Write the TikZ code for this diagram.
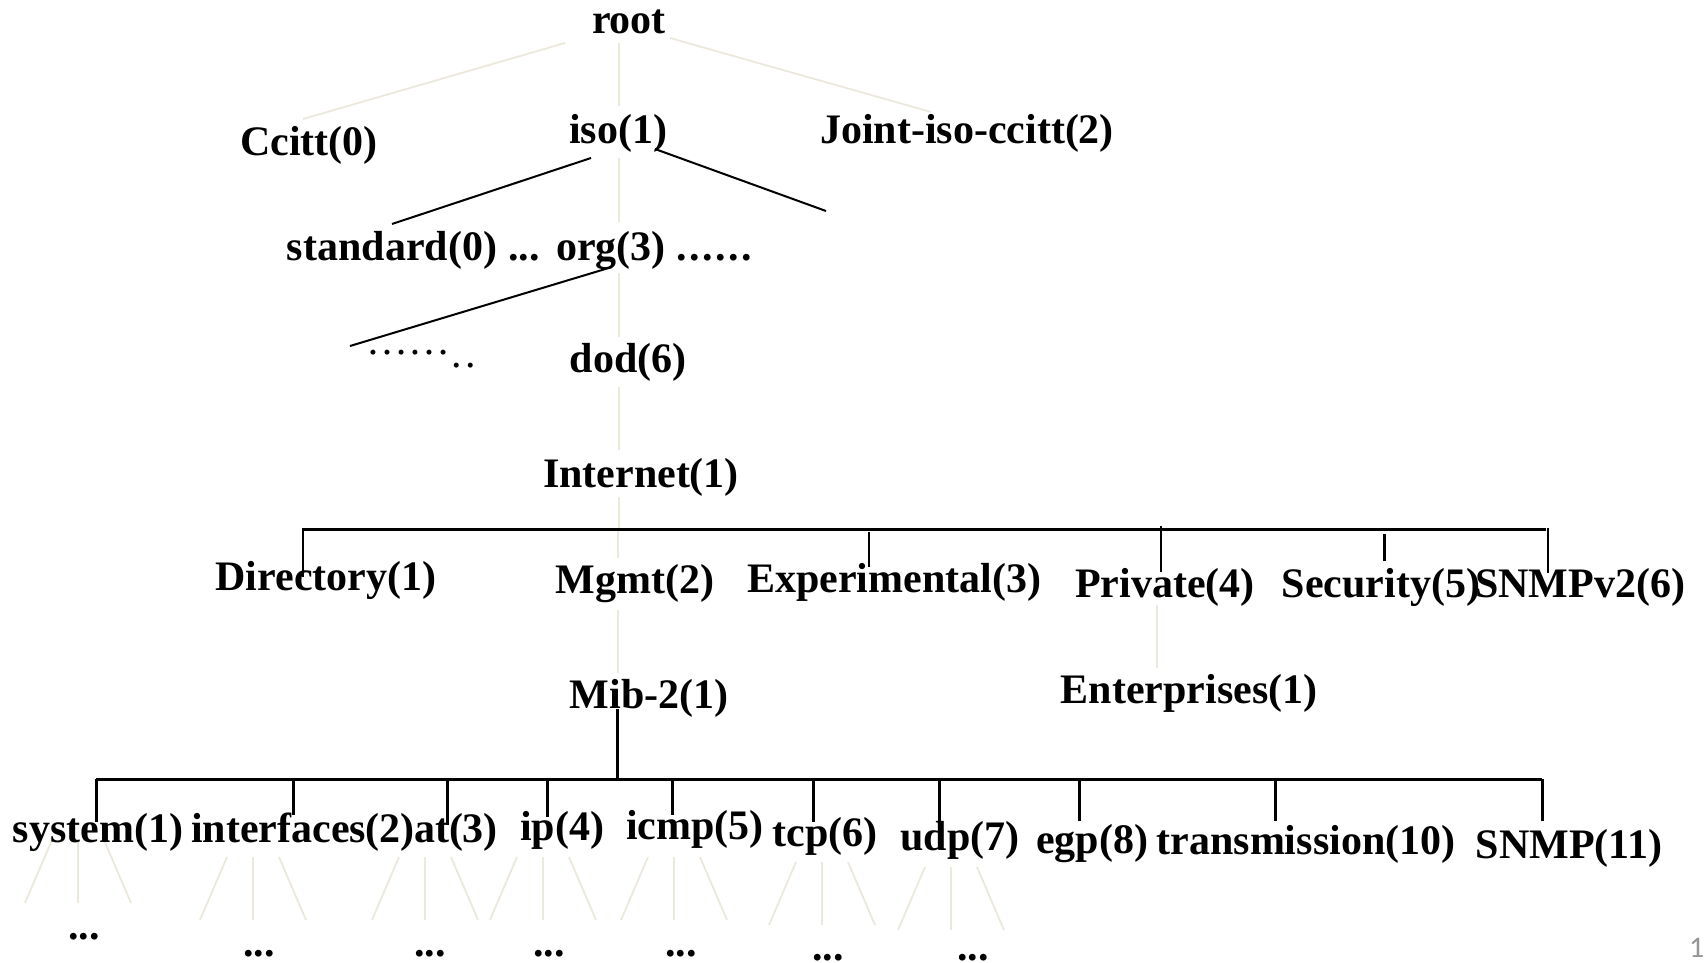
\documentclass[tikz,border=0pt]{standalone}
\usepackage{fontspec}
\setmainfont{Liberation Serif}
\newfontfamily\pgnumfont{Carlito}
\definecolor{lightline}{RGB}{236,232,220}
\definecolor{pggray}{RGB}{150,150,150}
\begin{document}
\begin{tikzpicture}[x=1pt,y=-1pt,
  lbl/.style={anchor=base, inner sep=0pt, font=\bfseries\fontsize{42}{42}\selectfont},
  thindots/.style={anchor=base, inner sep=0pt, font=\fontsize{42}{42}\selectfont},
  dark/.style={line width=2pt, black},
  barline/.style={line width=3pt, black},
  light/.style={line width=1.8pt, lightline}]
\useasboundingbox (0,0) rectangle (1707,963);

% ---------- light connectors (behind text) ----------
\coordinate (r-c1) at (565,43);  \coordinate (r-c2) at (303,119);
\coordinate (r-i1) at (619,43);  \coordinate (r-i2) at (619,106);
\coordinate (r-j1) at (670,38);  \coordinate (r-j2) at (931,112);
\coordinate (i-o1) at (619,158); \coordinate (i-o2) at (619,222);
\coordinate (o-d1) at (619,273); \coordinate (o-d2) at (619,337);
\coordinate (d-n1) at (619,387); \coordinate (d-n2) at (619,450);
\coordinate (n-b1) at (619,497); \coordinate (n-b2) at (619,528);
\coordinate (b-m1) at (618,529); \coordinate (b-m2) at (618,558);
\coordinate (m-mb1) at (618,610); \coordinate (m-mb2) at (618,673);
\coordinate (p-e1) at (1157,605); \coordinate (p-e2) at (1157,668);
\foreach \a/\b in {r-c1/r-c2, r-i1/r-i2, r-j1/r-j2, i-o1/i-o2, o-d1/o-d2,
                   d-n1/d-n2, n-b1/n-b2, b-m1/b-m2, m-mb1/m-mb2, p-e1/p-e2}
  \draw[light] (\a) -- (\b);

% fans under the mib-2 groups
\foreach \g/\cx/\ty/\by in {f1/78/840/903, f2/253/857/920, f3/425/857/920,
                            f4/543/857/920, f5/674/857/920, f6/822/862/925,
                            f7/951/867/930}{
  \coordinate (\g t) at (\cx,\ty);
  \coordinate (\g b) at (\cx,\by);
  \draw[light] ([xshift=-26pt]\g t) -- ([xshift=-53pt]\g b);
  \draw[light] (\g t) -- (\g b);
  \draw[light] ([xshift=26pt]\g t) -- ([xshift=53pt]\g b);
}

% ---------- text nodes ----------
\node[lbl] (root) at (629,34) {root};
\node[lbl] (ccitt) at (309,155) {Ccitt(0)};
\node[lbl] (iso) at (618,143) {iso(1)};
\node[lbl] (joint) at (967,143) {Joint-iso-ccitt(2)};
\node[lbl] (standard) at (392,260) {standard(0)};
\node[lbl] (sdots) at (524,260) {...};
\node[lbl] (org) at (611,260) {org(3)};
\node[lbl] (odots) at (714,260) {.\kern2.5pt.\kern2.5pt.\kern2.5pt.\kern2.5pt.\kern2.5pt.};
\node[thindots] (ell) at (408,354) {……};
\node[thindots] (ell2) at (464,367) {.\kern4pt.};
\node[lbl] (dod) at (628,372) {dod(6)};
\node[lbl] (internet) at (641,487) {Internet(1)};
\node[lbl] (directory) at (326,590) {Directory(1)};
\node[lbl] (mgmt) at (635,593) {Mgmt(2)};
\node[lbl] (experimental) at (894,592) {Experimental(3)};
\node[lbl] (private) at (1165,597) {Private(4)};
\node[lbl] (security) at (1381,597) {Security(5)};
\node[lbl] (snmpv2) at (1580,597) {SNMPv2(6)};
\node[lbl] (mib) at (649,708) {Mib-2(1)};
\node[lbl] (enterprises) at (1189,703) {Enterprises(1)};

\node[lbl] (system) at (98,842) {system(1)};
\node[lbl] (interfaces) at (303,842) {interfaces(2)};
\node[lbl] (at) at (456,842) {at(3)};
\node[lbl] (ip) at (562,840) {ip(4)};
\node[lbl] (icmp) at (695,839) {icmp(5)};
\node[lbl] (tcp) at (825,846) {tcp(6)};
\node[lbl] (udp) at (960,850) {udp(7)};
\node[lbl] (egp) at (1092,853) {egp(8)};
\node[lbl] (transmission) at (1306,854) {transmission(10)};
\node[lbl] (snmp) at (1569,858) {SNMP(11)};

\foreach \n/\x/\y in {d1/84/939, d2/259/956, d3/430/956, d4/549/956,
                      d5/681/956, d6/828/960, d7/973/960}
  \node[lbl] (\n) at (\x,\y) {...};

\node[anchor=base west, inner sep=0pt, font=\pgnumfont\fontsize{30}{30}\selectfont, text=pggray] (pg) at (1689,957) {1};

% ---------- dark connectors ----------
\coordinate (i-s1) at (591,158); \coordinate (i-s2) at (392,224);
\coordinate (i-x1) at (655,149); \coordinate (i-x2) at (826,211);
\coordinate (o-l1) at (612,267); \coordinate (o-l2) at (350,346);
\draw[dark] (i-s1) -- (i-s2);
\draw[dark] (i-x1) -- (i-x2);
\draw[dark] (o-l1) -- (o-l2);

% upper bar
\coordinate (ub-l) at (303,529); \coordinate (ub-r) at (1546,529);
\draw[barline] (ub-l) -- (ub-r);
\coordinate (t-dir1) at (303,528);  \coordinate (t-dir2) at (303,577);
\coordinate (t-exp1) at (869,532);  \coordinate (t-exp2) at (869,567);
\coordinate (t-pri1) at (1161,526); \coordinate (t-pri2) at (1161,572);
\coordinate (t-sec1) at (1384,534); \coordinate (t-sec2) at (1384,561);
\coordinate (t-sn1) at (1548,528);  \coordinate (t-sn2) at (1548,573);
\draw[line width=2.5pt] (t-dir1) -- (t-dir2);
\draw[line width=2pt] (t-exp1) -- (t-exp2);
\draw[line width=1.6pt] (t-pri1) -- (t-pri2);
\draw[line width=3pt] (t-sec1) -- (t-sec2);
\draw[line width=2.5pt] (t-sn1) -- (t-sn2);

% lower bar
\coordinate (mib-b1) at (617,709); \coordinate (mib-b2) at (617,779);
\draw[barline] (mib-b1) -- (mib-b2);
\coordinate (lb-l) at (96,779); \coordinate (lb-r) at (1542,779);
\draw[barline] (lb-l) -- (lb-r);
\foreach \n/\x/\y in {system/96/822, interfaces/293/815, at/447/825, ip/547/817,
                      icmp/672/815, tcp/813/822, udp/939/825, egp/1079/821,
                      transmission/1275/821, snmp/1542/821}{
  \coordinate (tk-\n-a) at (\x,779);
  \coordinate (tk-\n-b) at (\x,\y);
  \draw[barline] (tk-\n-a) -- (tk-\n-b);
}
\end{tikzpicture}
\end{document}
